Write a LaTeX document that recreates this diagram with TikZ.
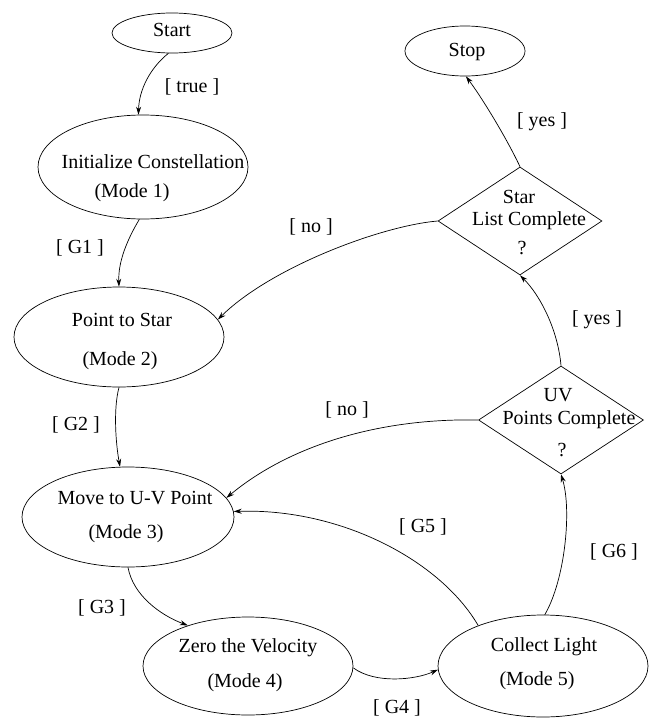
\documentclass[tikz,border=0pt]{standalone}
\usepackage{fontspec}
\setmainfont{Liberation Serif}
\usetikzlibrary{shapes.geometric,arrows.meta}
\begin{document}
\begin{tikzpicture}[x=1pt,y=-1pt,line width=0.7pt,
  state/.style={ellipse,draw,inner sep=0pt},
  decision/.style={diamond,draw,inner sep=0pt,aspect=1.5},
  txt/.style={inner sep=0pt,font=\fontsize{20}{24}\selectfont},
  conn/.style={-{Stealth[length=8pt,width=5pt]}}]
\useasboundingbox (0,0) rectangle (650,720);

% states
\node[state,minimum width=120pt,minimum height=40pt] (start) at (172,33) {};
\node[state,minimum width=120pt,minimum height=50pt] (stop) at (465,51) {};
\node[state,minimum width=210pt,minimum height=104pt] (init) at (143,167) {};
\node[state,minimum width=210pt,minimum height=100pt] (point) at (119,337) {};
\node[state,minimum width=212pt,minimum height=100pt] (move) at (128,517) {};
\node[state,minimum width=210pt,minimum height=98pt] (zero) at (248,666) {};
\node[state,minimum width=210pt,minimum height=102pt] (collect) at (543,666) {};
\node[decision,minimum width=164pt,minimum height=108pt] (star) at (520,221) {};
\node[decision,minimum width=165pt,minimum height=108pt] (uv) at (561,420) {};

% texts in shapes
\node[txt] (tstart) at (172,30) {Start};
\node[txt] (tstop) at (467,52) {Stop};
\node[txt] (tinit1) at (153,162) {Initialize Constellation};
\node[txt] (tinit2) at (132,193) {(Mode 1)};
\node[txt] (tpoint1) at (122,320) {Point to Star};
\node[txt] (tpoint2) at (120,361) {(Mode 2)};
\node[txt] (tmove1) at (135,498) {Move to U-V Point};
\node[txt] (tmove2) at (126,534) {(Mode 3)};
\node[txt] (tzero1) at (248,648) {Zero the Velocity};
\node[txt] (tzero2) at (245,683) {(Mode 4)};
\node[txt] (tcoll1) at (544,647) {Collect Light};
\node[txt] (tcoll2) at (537,681) {(Mode 5)};
\node[txt] (tstar1) at (519,197) {Star};
\node[txt] (tstar2) at (529,221) {List Complete};
\node[txt] (tstar3) at (522,248) {?};
\node[txt] (tuv1) at (558,395) {UV};
\node[txt] (tuv2) at (569,420) {Points Complete};
\node[txt] (tuv3) at (562,450) {?};

% connector labels
\node[txt] (ltrue) at (192,87) {[ true ]};
\node[txt] (lg1) at (80,248) {[ G1 ]};
\node[txt] (lg2) at (76,425) {[ G2 ]};
\node[txt] (lg3) at (102,608) {[ G3 ]};
\node[txt] (lg4) at (397,708) {[ G4 ]};
\node[txt] (lg5) at (423,527) {[ G5 ]};
\node[txt] (lg6) at (614,552) {[ G6 ]};
\node[txt] (lno1) at (311,227) {[ no ]};
\node[txt] (lno2) at (347,410) {[ no ]};
\node[txt] (lyes1) at (542,122) {[ yes ]};
\node[txt] (lyes2) at (597,320) {[ yes ]};

% connectors
\draw[conn] (start.-100) .. controls (150,68) and (139,90) .. (init.95);
\draw[conn] (init.-94) .. controls (127,240) and (118,262) .. (point.90);
\draw[conn] (point.-90) .. controls (113,410) and (116,445) .. (move.99);
\draw[conn] (move.-90) .. controls (133,595) and (160,615) .. (zero.146);
\draw[conn] (zero.-1) .. controls (375,684) and (415,680) .. (collect.182);
\draw[conn] (collect.148) .. controls (440,560) and (340,508) .. (move.3);
\draw[conn] (collect.88) .. controls (565,580) and (572,510) .. (uv.south);
\draw[conn] (uv.north) .. controls (558,330) and (540,295) .. (star.south);
\draw[conn] (star.north) .. controls (505,135) and (480,95) .. (stop.-88);
\draw[conn] (star.west) .. controls (380,226) and (270,268) .. (point.10);
\draw[conn] (uv.west) .. controls (380,418) and (290,445) .. (move.11);
\end{tikzpicture}
\end{document}
